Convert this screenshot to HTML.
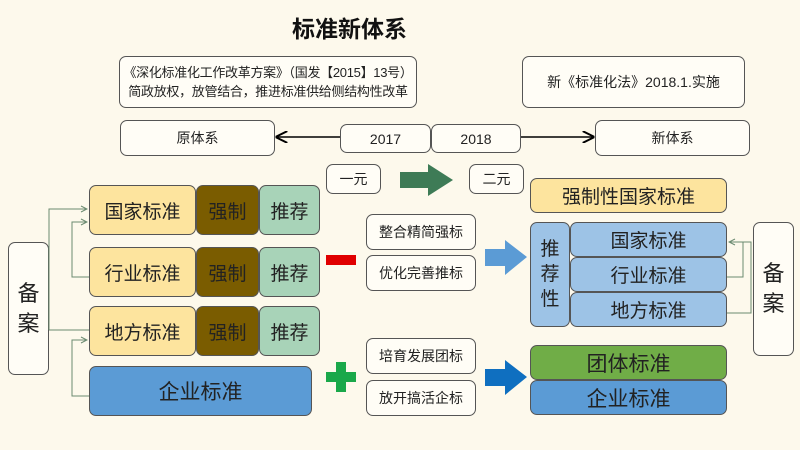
<!DOCTYPE html>
<html><head><meta charset="utf-8"><style>
body{margin:0;width:800px;height:450px;background:#fdf9ec;position:relative;overflow:hidden;font-family:"Liberation Sans","Noto Sans CJK SC",sans-serif;color:#222}
.b{position:absolute;box-sizing:border-box;border:1px solid #555;border-radius:7px;display:flex;align-items:center;justify-content:center;text-align:center;background:#fffdf6;white-space:nowrap}
</style></head><body>
<div style="position:absolute;left:292px;top:10px;font-size:23px;font-weight:bold;color:#111">标准新体系</div>
<div class="b" style="left:119px;top:56px;width:298px;height:52px;font-size:13px;line-height:19px;letter-spacing:-0.3px">《深化标准化工作改革方案》（国发【2015】13号）<br>简政放权，放管结合，推进标准供给侧结构性改革</div>
<div class="b" style="left:522px;top:56px;width:223px;height:52px;font-size:14px">新《标准化法》2018.1.实施</div>
<div class="b" style="left:120px;top:120px;width:155px;height:36px;font-size:14px">原体系</div>
<div class="b" style="left:340px;top:124px;width:91px;height:29px;font-size:14px">2017</div>
<div class="b" style="left:431px;top:124px;width:90px;height:29px;font-size:14px">2018</div>
<div class="b" style="left:595px;top:120px;width:155px;height:36px;font-size:14px">新体系</div>
<div class="b" style="left:326px;top:164px;width:55px;height:30px;font-size:14px">一元</div>
<div class="b" style="left:469px;top:164px;width:55px;height:30px;font-size:14px">二元</div>

<div class="b" style="left:8px;top:242px;width:41px;height:133px;font-size:22px;line-height:30px">备<br>案</div>
<div class="b" style="left:89px;top:185px;width:107px;height:50px;background:#fde49e;font-size:19px">国家标准</div>
<div class="b" style="left:196px;top:185px;width:63px;height:50px;background:#7a5c00;font-size:19px">强制</div>
<div class="b" style="left:259px;top:185px;width:61px;height:50px;background:#a8d3b8;font-size:19px">推荐</div>
<div class="b" style="left:89px;top:247px;width:107px;height:50px;background:#fde49e;font-size:19px">行业标准</div>
<div class="b" style="left:196px;top:247px;width:63px;height:50px;background:#7a5c00;font-size:19px">强制</div>
<div class="b" style="left:259px;top:247px;width:61px;height:50px;background:#a8d3b8;font-size:19px">推荐</div>
<div class="b" style="left:89px;top:306px;width:107px;height:50px;background:#fde49e;font-size:19px">地方标准</div>
<div class="b" style="left:196px;top:306px;width:63px;height:50px;background:#7a5c00;font-size:19px">强制</div>
<div class="b" style="left:259px;top:306px;width:61px;height:50px;background:#a8d3b8;font-size:19px">推荐</div>
<div class="b" style="left:89px;top:366px;width:223px;height:50px;background:#5b9bd5;font-size:21px">企业标准</div>

<div class="b" style="left:366px;top:214px;width:110px;height:36px;font-size:14px">整合精简强标</div>
<div class="b" style="left:366px;top:255px;width:110px;height:36px;font-size:14px">优化完善推标</div>
<div class="b" style="left:366px;top:338px;width:110px;height:36px;font-size:14px">培育发展团标</div>
<div class="b" style="left:366px;top:380px;width:110px;height:36px;font-size:14px">放开搞活企标</div>

<div class="b" style="left:530px;top:178px;width:197px;height:35px;background:#fde49e;font-size:19px">强制性国家标准</div>
<div class="b" style="left:530px;top:222px;width:40px;height:105px;background:#9dc3e6;font-size:19px;line-height:25px">推<br>荐<br>性</div>
<div class="b" style="left:570px;top:222px;width:157px;height:35px;background:#9dc3e6;font-size:19px">国家标准</div>
<div class="b" style="left:570px;top:257px;width:157px;height:35px;background:#9dc3e6;font-size:19px">行业标准</div>
<div class="b" style="left:570px;top:292px;width:157px;height:35px;background:#9dc3e6;font-size:19px">地方标准</div>
<div class="b" style="left:530px;top:345px;width:197px;height:35px;background:#70ad47;font-size:21px">团体标准</div>
<div class="b" style="left:530px;top:380px;width:197px;height:35px;background:#5b9bd5;font-size:21px">企业标准</div>
<div class="b" style="left:753px;top:222px;width:41px;height:134px;font-size:22px;line-height:30px">备<br>案</div>

<svg width="800" height="450" style="position:absolute;left:0;top:0">
<defs><marker id="a" markerWidth="8" markerHeight="8" refX="7" refY="4" orient="auto"><path d="M0,0 L8,4 L0,8" fill="none" stroke="#000" stroke-width="1.3"/></marker>
<marker id="g" markerWidth="8" markerHeight="8" refX="7" refY="4" orient="auto"><path d="M1,1 L7,4 L1,7" fill="none" stroke="#6a8a70" stroke-width="1"/></marker></defs>
<line x1="340" y1="137" x2="277" y2="137" stroke="#000" stroke-width="1.5" marker-end="url(#a)"/>
<line x1="521" y1="137" x2="593" y2="137" stroke="#000" stroke-width="1.5" marker-end="url(#a)"/>
<polygon points="400,172 428,172 428,164 453,180 428,196 428,188 400,188" fill="#3e7b56"/>
<rect x="326" y="255" width="30" height="10" fill="#e00000"/>
<path d="M336,362h10v10h10v10h-10v10h-10v-10h-10v-10h10z" fill="#1aa84a"/>
<polygon points="485,249 505,249 505,240 527,257 505,275 505,266 485,266" fill="#5b9bd5"/>
<polygon points="485,369 505,369 505,360 527,377 505,395 505,386 485,386" fill="#0f6fc0"/>
<g fill="none" stroke="#6a8a70" stroke-width="1">
<polyline points="49,330 49,209 87,209" marker-end="url(#g)"/>
<line x1="49" y1="330" x2="89" y2="330"/>
<polyline points="89,277 72,277 72,222 87,222" marker-end="url(#g)"/>
<polyline points="89,396 72,396 72,340 87,340" marker-end="url(#g)"/>
<polyline points="727,313 751,313 751,242 729,242" marker-end="url(#g)"/>
<polyline points="727,277 743,277 743,242"/>
</g>
</svg>
</body></html>
